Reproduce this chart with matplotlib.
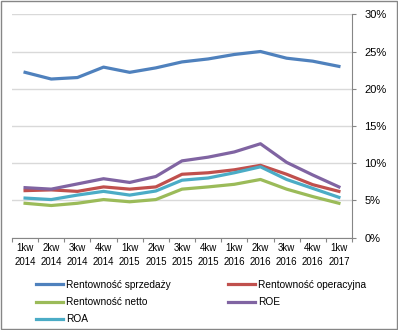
"""Wskazniki rentownosci kwartalnie 2014-2017."""

import matplotlib
matplotlib.use("Agg")
import matplotlib.pyplot as plt
from matplotlib.patches import Rectangle
from matplotlib.ticker import FuncFormatter, MultipleLocator

quarters = ["1kw\n2014", "2kw\n2014", "3kw\n2014", "4kw\n2014",
            "1kw\n2015", "2kw\n2015", "3kw\n2015", "4kw\n2015",
            "1kw\n2016", "2kw\n2016", "3kw\n2016", "4kw\n2016",
            "1kw\n2017"]

sprzedazy = [22.2, 21.3, 21.5, 22.9, 22.2, 22.8, 23.6, 24.0, 24.6, 25.0, 24.1, 23.7, 23.0]
operacyjna = [6.3, 6.4, 6.2, 6.8, 6.5, 6.8, 8.5, 8.7, 9.1, 9.7, 8.5, 7.1, 6.2]
netto = [4.6, 4.3, 4.6, 5.1, 4.8, 5.1, 6.5, 6.8, 7.15, 7.8, 6.5, 5.5, 4.6]
roe = [6.7, 6.5, 7.2, 7.9, 7.4, 8.2, 10.3, 10.8, 11.5, 12.6, 10.1, 8.4, 6.8]
roa = [5.3, 5.1, 5.7, 6.2, 5.7, 6.25, 7.7, 8.0, 8.7, 9.5, 7.8, 6.6, 5.4]

plt.rcParams["font.family"] = ["Liberation Sans", "DejaVu Sans"]

fig = plt.figure(figsize=(3.98, 3.30), dpi=100)
ax = fig.add_axes([12 / 398, 92.5 / 330, 340 / 398, 223.2 / 330])

x = list(range(len(quarters)))
lw = 2.3
l_sp, = ax.plot(x, sprzedazy, color="#4F81BD", lw=lw, label="Rentowność sprzedaży")
l_op, = ax.plot(x, operacyjna, color="#C0504D", lw=lw, label="Rentowność operacyjna")
l_ne, = ax.plot(x, netto, color="#9BBB59", lw=lw, label="Rentowność netto")
l_roe, = ax.plot(x, roe, color="#8064A2", lw=lw, label="ROE")
l_roa, = ax.plot(x, roa, color="#4BACC6", lw=lw, label="ROA")

ax.set_xlim(-0.5, len(quarters) - 0.5)
ax.set_ylim(0, 30)
ax.yaxis.set_major_locator(MultipleLocator(5))
ax.yaxis.set_major_formatter(FuncFormatter(lambda v, _: f"{v:.0f}%"))
ax.yaxis.tick_right()
ax.grid(axis="y", color="#D9D9D9", lw=1)
ax.set_axisbelow(True)

ax.set_xticks([i - 0.5 for i in range(len(quarters) + 1)])
ax.set_xticklabels([])
ax.set_xticks(x, minor=True)
ax.set_xticklabels(quarters, minor=True, fontsize=7, linespacing=1.5)
ax.tick_params(axis="x", which="minor", length=0, pad=4)
ax.tick_params(axis="x", which="major", length=3, color="#868686")
ax.tick_params(axis="y", length=3, color="#868686", labelsize=8, pad=6)

for side in ["top", "left"]:
    ax.spines[side].set_visible(False)
for side in ["bottom", "right"]:
    ax.spines[side].set_color("#868686")

legend_kw = dict(loc="upper left", frameon=False, fontsize=7.3, handlelength=2.7,
                 handletextpad=0.3, labelspacing=0.7, borderpad=0, borderaxespad=0)
fig.legend(handles=[l_sp, l_ne, l_roa], bbox_to_anchor=(36 / 398, 1 - 280 / 330), **legend_kw)
fig.legend(handles=[l_op, l_roe], bbox_to_anchor=(228 / 398, 1 - 280 / 330), **legend_kw)

fig.patches.append(Rectangle((0.002, 0.002), 0.995, 0.995, transform=fig.transFigure,
                             fill=False, edgecolor="#868686", lw=1))

fig.savefig("out.png", dpi=100)
